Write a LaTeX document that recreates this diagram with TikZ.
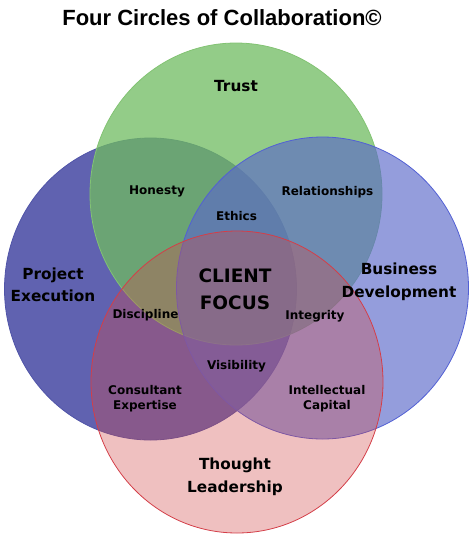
\documentclass[tikz,border=0pt]{standalone}
\usepackage{fontspec}
\setmainfont{DejaVu Sans}
\newfontfamily\titlefont{Liberation Sans}
\usepackage{xcolor}
\usepackage{tikz}

\definecolor{execblue}{RGB}{96,98,176}
\definecolor{execline}{RGB}{80,84,168}
\definecolor{trustgreen}{RGB}{111,187,96}
\definecolor{trustline}{RGB}{130,195,115}
\definecolor{busblue}{RGB}{91,105,201}
\definecolor{busline}{RGB}{82,96,212}
\definecolor{thoughtred}{RGB}{209,74,74}
\definecolor{thoughtline}{RGB}{212,62,72}

\begin{document}
\begin{tikzpicture}[x=1pt, y=-1pt,
        venn/.style={line width=0.8pt},
        bigtext/.style={font=\fontsize{15.3}{22.5}\selectfont\bfseries, align=center},
        smalltext/.style={font=\fontsize{12}{15}\selectfont\bfseries, align=center}]
    \useasboundingbox (0,0) rectangle (474,539);

    % the four circles
    \draw[venn, draw=execline, fill=execblue] (150.5,289) ellipse [x radius=146pt, y radius=151pt];
    \draw[venn, draw=trustline, fill=trustgreen, fill opacity=0.75] (236,194) ellipse [x radius=146pt, y radius=151pt];
    \draw[venn, draw=busline, fill=busblue, fill opacity=0.65] (322.5,288) ellipse [x radius=146pt, y radius=151pt];
    \draw[venn, draw=thoughtline, fill=thoughtred, fill opacity=0.35] (237,382) ellipse [x radius=146pt, y radius=151pt];

    % title
    \node (title) at (222,18) {\titlefont\fontsize{22}{24}\selectfont\bfseries Four Circles of Collaboration©};

    % circle names
    \node[bigtext] (trust) at (236,86) {Trust};
    \node[bigtext] (execution) at (53,285) {Project\\Execution};
    \node[bigtext] (business) at (399,282) {Business\\Development};
    \node[bigtext] (thought) at (235,477) {Thought\\Leadership};
    \node[font=\fontsize{18.5}{27}\selectfont\bfseries, align=center] (client) at (235,289) {CLIENT\\FOCUS};

    % overlaps
    \node[smalltext] (honesty) at (157,191) {Honesty};
    \node[smalltext] (relationships) at (327.5,192) {Relationships};
    \node[smalltext] (ethics) at (236.5,216) {Ethics};
    \node[smalltext] (discipline) at (145.5,315) {Discipline};
    \node[smalltext] (integrity) at (315,316) {Integrity};
    \node[smalltext] (visibility) at (236.5,366) {Visibility};
    \node[smalltext] (expertise) at (145,399) {Consultant\\Expertise};
    \node[smalltext] (capital) at (327,399) {Intellectual\\Capital};
\end{tikzpicture}
\end{document}
